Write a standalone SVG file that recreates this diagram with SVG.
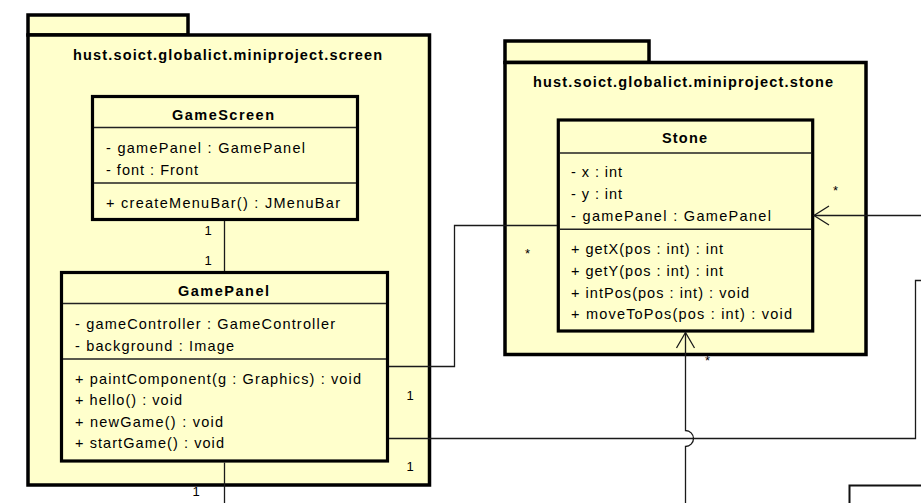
<svg xmlns="http://www.w3.org/2000/svg" width="921" height="503" viewBox="0 0 921 503">
<style>
.pkg{fill:#FFFFCC;stroke:#000;stroke-width:3.5}
.cls{fill:#FFFFCC;stroke:#000;stroke-width:3.2}
.sep{stroke:#222;stroke-width:1.6;fill:none}
.con{stroke:#1a1a1a;stroke-width:1.3;fill:none}
text{font-family:"Liberation Sans",Arial,sans-serif;font-size:14.5px;fill:#000}
.b{font-weight:bold}
.lbl{font-size:13px}
</style>
<rect width="921" height="503" fill="#fff"/>
<g id="pkg-screen">
<rect class="pkg" x="28" y="15" width="160" height="20"/>
<rect class="pkg" x="28" y="35" width="401.5" height="450"/>
<text class="b" x="73" y="60" textLength="309" lengthAdjust="spacing">hust.soict.globalict.miniproject.screen</text>
</g>
<g id="pkg-stone">
<rect class="pkg" x="505" y="41" width="144" height="21.5"/>
<rect class="pkg" x="505" y="62.5" width="361" height="292"/>
<text class="b" x="533" y="87" textLength="300" lengthAdjust="spacing">hust.soict.globalict.miniproject.stone</text>
</g>
<g id="GameScreen">
<rect class="cls" x="92.5" y="96.5" width="265" height="123"/>
<line class="sep" x1="94" y1="127.5" x2="356" y2="127.5"/>
<line class="sep" x1="94" y1="183" x2="356" y2="183"/>
<text class="b" x="172" y="120" textLength="102" lengthAdjust="spacing">GameScreen</text>
<text x="106" y="153" textLength="199" lengthAdjust="spacing">- gamePanel : GamePanel</text>
<text x="106" y="175" textLength="92" lengthAdjust="spacing">- font : Front</text>
<text x="106" y="208" textLength="234" lengthAdjust="spacing">+ createMenuBar() : JMenuBar</text>
</g>
<g id="GamePanel">
<rect class="cls" x="61.5" y="272.5" width="326" height="188.5"/>
<line class="sep" x1="63" y1="303.5" x2="386" y2="303.5"/>
<line class="sep" x1="63" y1="359" x2="386" y2="359"/>
<text class="b" x="178" y="296" textLength="91" lengthAdjust="spacing">GamePanel</text>
<text x="75" y="329" textLength="260" lengthAdjust="spacing">- gameController : GameController</text>
<text x="75" y="351" textLength="159" lengthAdjust="spacing">- background : Image</text>
<text x="75" y="383.5" textLength="286" lengthAdjust="spacing">+ paintComponent(g : Graphics) : void</text>
<text x="75" y="405" textLength="107" lengthAdjust="spacing">+ hello() : void</text>
<text x="75" y="427" textLength="148" lengthAdjust="spacing">+ newGame() : void</text>
<text x="75" y="448" textLength="149" lengthAdjust="spacing">+ startGame() : void</text>
</g>
<g id="Stone">
<rect class="cls" x="558.3" y="120" width="254.4" height="211"/>
<line class="sep" x1="560" y1="153" x2="811" y2="153"/>
<line class="sep" x1="560" y1="229.3" x2="811" y2="229.3"/>
<text class="b" x="662" y="143" textLength="45" lengthAdjust="spacing">Stone</text>
<text x="571" y="177" textLength="51" lengthAdjust="spacing">- x : int</text>
<text x="571" y="199" textLength="51" lengthAdjust="spacing">- y : int</text>
<text x="571" y="221" textLength="200" lengthAdjust="spacing">- gamePanel : GamePanel</text>
<text x="571" y="254" textLength="152" lengthAdjust="spacing">+ getX(pos : int) : int</text>
<text x="571" y="276" textLength="152" lengthAdjust="spacing">+ getY(pos : int) : int</text>
<text x="571" y="298" textLength="178" lengthAdjust="spacing">+ intPos(pos : int) : void</text>
<text x="571" y="319" textLength="221" lengthAdjust="spacing">+ moveToPos(pos : int) : void</text>
</g>
<g id="partial-class">
<polyline points="849.5,503 849.5,485.5 921,485.5" fill="none" stroke="#111" stroke-width="2"/>
</g>
<g id="connectors">
<line class="con" x1="224.5" y1="221" x2="224.5" y2="271"/>
<line class="con" x1="224.5" y1="462.5" x2="224.5" y2="503"/>
<polyline class="con" points="389,366.5 454.5,366.5 454.5,225.5 557,225.5"/>
<polyline class="con" points="389,438.5 915.5,438.5 915.5,280.5 921,280.5"/>
<line class="con" x1="921" y1="215.5" x2="814" y2="215.5"/>
<polyline class="con" points="829,206 814,215.5 829,225"/>
<path class="con" d="M685.5,503 V446.5 A8,8 0 0 0 685.5,430.5 V332"/>
<polyline class="con" points="676.5,348 685.5,332.5 694.5,348"/>
<text class="lbl" x="204.5" y="235">1</text>
<text class="lbl" x="204.5" y="265">1</text>
<text class="lbl" x="406.5" y="400">1</text>
<text class="lbl" x="406.5" y="471">1</text>
<text class="lbl" x="192.5" y="496">1</text>
<text class="lbl" x="833" y="195">*</text>
<text class="lbl" x="525" y="258">*</text>
<text class="lbl" x="705" y="365">*</text>
</g>
</svg>
